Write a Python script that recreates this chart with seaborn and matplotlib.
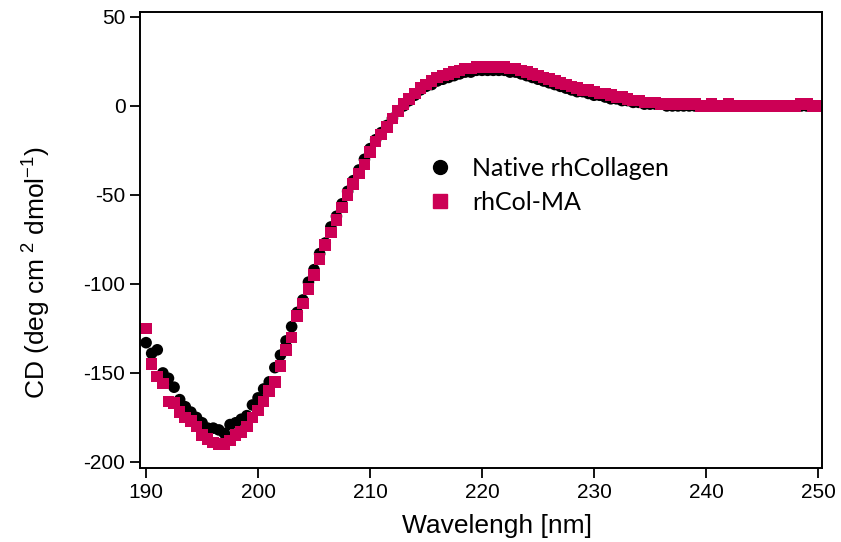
import numpy as np
import pandas as pd
import matplotlib
matplotlib.use("Agg")
import matplotlib.pyplot as plt
import seaborn as sns

# wavelength grid, 0.5 nm steps (190-250 nm)
wavelength = np.arange(190.0, 250.25, 0.5)

native_cd = [
    -133, -139, -137, -150, -153, -158, -165, -169, -172, -175,   # 190-194.5
    -178, -181, -181, -182, -184, -179, -178, -176, -174, -168,   # 195-199.5
    -164, -159, -155, -147, -140, -132, -124, -116, -109, -99,    # 200-204.5
    -92, -83, -77, -68, -62, -55, -48, -42, -36, -30,             # 205-209.5
    -24, -19, -15, -11, -7, -3, 0, 3, 6, 9,                       # 210-214.5
    11, 12, 14, 15, 16, 17, 18, 19, 19, 20,                       # 215-219.5
    20, 20, 20, 20, 20, 19, 19, 18, 17, 16,                       # 220-224.5
    15, 14, 13, 12, 11, 10, 9, 8, 8, 7,                           # 225-229.5
    6, 6, 5, 4, 4, 3, 3, 2, 2, 1,                                 # 230-234.5
    1, 1, 1, 0, 0, 0, 0, 0, 0, 0,                                 # 235-239.5
    0, 0, 0, 0, 1, 0, 0, 0, 0, 0,                                 # 240-244.5
    0, 0, 0, 0, 0, 0, 0, 0, 0, 0,                                 # 245-249.5
    0,                                                            # 250
]

ma_cd = [
    -125, -145, -152, -156, -166, -167, -172, -175, -177, -180,   # 190-194.5
    -185, -187, -189, -190, -190, -188, -185, -183, -180, -175,   # 195-199.5
    -171, -166, -160, -155, -146, -137, -130, -118, -111, -103,   # 200-204.5
    -95, -86, -78, -71, -64, -57, -50, -44, -38, -33,             # 205-209.5
    -26, -20, -16, -12, -7, -3, 1, 4, 7, 10,                      # 210-214.5
    12, 14, 16, 17, 18, 19, 20, 21, 21, 22,                       # 215-219.5
    22, 22, 22, 22, 22, 21, 21, 20, 19, 18,                       # 220-224.5
    17, 16, 15, 14, 13, 12, 11, 10, 9, 9,                         # 225-229.5
    8, 7, 7, 6, 5, 5, 4, 3, 3, 2,                                 # 230-234.5
    2, 2, 1, 1, 1, 1, 1, 1, 1, 0,                                 # 235-239.5
    0, 1, 0, 0, 1, 0, 0, 0, 0, 0,                                 # 240-244.5
    0, 0, 0, 0, 0, 0, 0, 1, 1, 0,                                 # 245-249.5
    0,                                                            # 250
]

labels = ["Native rhCollagen", "rhCol-MA"]
colors = {"Native rhCollagen": "#000000", "rhCol-MA": "#CC0055"}
markers = {"Native rhCollagen": "o", "rhCol-MA": "s"}

df = pd.concat(
    [
        pd.DataFrame({"wavelength": wavelength, "cd": native_cd, "sample": labels[0]}),
        pd.DataFrame({"wavelength": wavelength, "cd": ma_cd, "sample": labels[1]}),
    ],
    ignore_index=True,
)

sns.set_theme(style="ticks")
plt.rcParams["font.family"] = ["Liberation Sans", "DejaVu Sans"]
plt.rcParams["mathtext.fontset"] = "custom"
plt.rcParams["mathtext.rm"] = "Liberation Sans"
plt.rcParams["mathtext.it"] = "Liberation Sans"
plt.rcParams["axes.unicode_minus"] = False
plt.rcParams["text.color"] = "black"
plt.rcParams["axes.labelcolor"] = "black"

fig = plt.figure(figsize=(8.41, 5.42), dpi=100)
ax = fig.add_axes([0.1665, 0.1365, 0.8109, 0.8415])

sns.scatterplot(
    data=df, x="wavelength", y="cd", hue="sample", style="sample",
    palette=colors, markers=markers, s=70, linewidth=0, ax=ax, legend=False,
)

ax.set_xlim(189.46, 250.36)
ax.set_ylim(-203.4, 52.8)
ax.set_xticks(np.arange(190, 251, 10))
ax.set_yticks(np.arange(-200, 51, 50))
ax.tick_params(direction="out", length=7, width=1.3, labelsize=15, colors="black")
for side in ["top", "right", "left", "bottom"]:
    ax.spines[side].set_visible(True)
    ax.spines[side].set_linewidth(1.4)
    ax.spines[side].set_color("black")

ax.set_xlabel("Wavelengh [nm]", fontsize=19)
ax.set_ylabel(r"CD (deg cm$^{\ 2}$ dmol$^{-1}$)", fontsize=19)
ax.xaxis.set_label_coords(0.523, -0.1)
ax.yaxis.set_label_coords(-0.128, 0.428)

handles = [
    plt.Line2D([], [], marker="o", ls="", color="black", markersize=10),
    plt.Line2D([], [], marker="s", ls="", color="#CC0055", markersize=10),
]
ax.legend(
    handles, labels, loc="center left", bbox_to_anchor=(0.388, 0.62),
    frameon=False, handlelength=1.0, handletextpad=0.8, labelspacing=0.45,
    prop={"family": ["Lato", "DejaVu Sans"], "size": 18},
)

fig.savefig("out.png", dpi=100)
